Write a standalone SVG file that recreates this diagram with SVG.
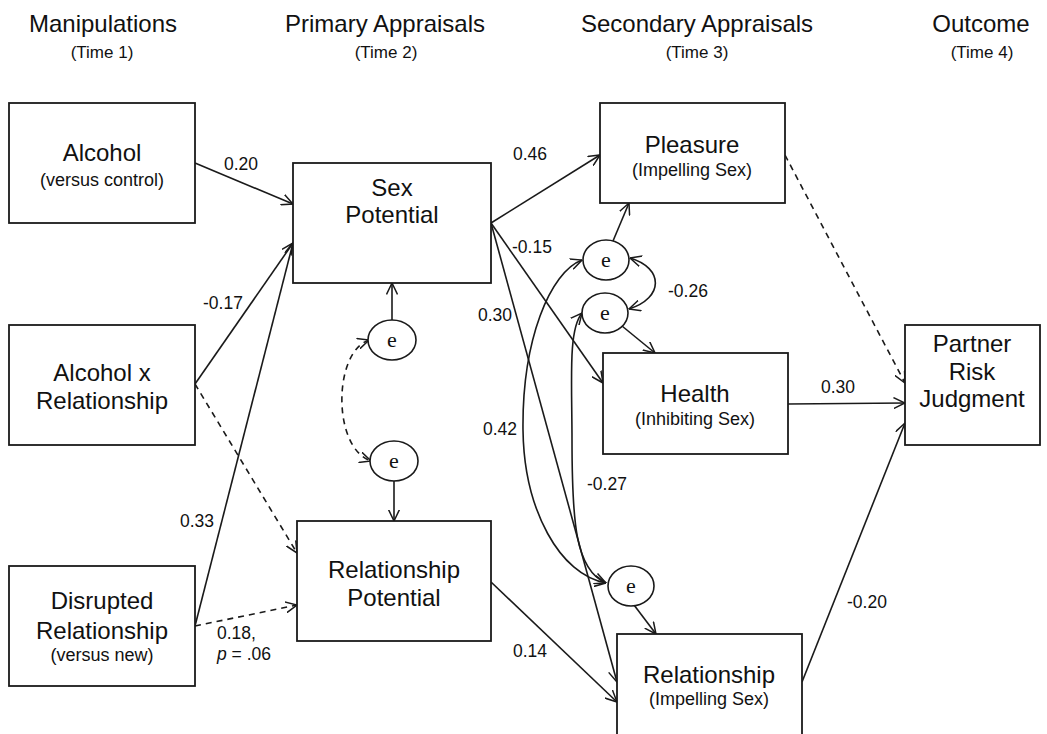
<svg xmlns="http://www.w3.org/2000/svg" width="1047" height="734" viewBox="0 0 1047 734">
  <defs>
    <marker id="arrow" viewBox="0 0 12 12" refX="11.5" refY="6" markerWidth="12" markerHeight="12" markerUnits="userSpaceOnUse" orient="auto-start-reverse">
      <path d="M0,0.5 L11.5,6 L0,11.5" fill="none" stroke="#1a1a1a" stroke-width="1.5"/>
    </marker>
    <style>
      .box { fill: #fff; stroke: #1a1a1a; stroke-width: 1.8; }
      .err { fill: #fff; stroke: #1a1a1a; stroke-width: 1.6; }
      .lnk { fill: none; stroke: #1a1a1a; stroke-width: 1.6; marker-end: url(#arrow); }
      .cov { fill: none; stroke: #1a1a1a; stroke-width: 1.6; marker-start: url(#arrow); marker-end: url(#arrow); }
      .dash { stroke-dasharray: 6 5; }
      text { font-family: "Liberation Sans", Arial, sans-serif; fill: #111; text-anchor: middle; }
      .hd { font-size: 24px; }
      .tm { font-size: 17px; }
      .nm { font-size: 24px; }
      .sb { font-size: 18px; }
      .lb { font-size: 17.5px; text-anchor: start; }
      .e { font-family: "Liberation Serif", "Times New Roman", serif; font-size: 22px; }
    </style>
  </defs>

  <!-- column headings -->
  <g id="headings">
    <text class="hd" x="103" y="32">Manipulations</text>
    <text class="tm" x="102" y="58">(Time 1)</text>
    <text class="hd" x="385" y="32">Primary Appraisals</text>
    <text class="tm" x="386" y="58">(Time 2)</text>
    <text class="hd" x="697" y="32">Secondary Appraisals</text>
    <text class="tm" x="697" y="58">(Time 3)</text>
    <text class="hd" x="981" y="32">Outcome</text>
    <text class="tm" x="982" y="58">(Time 4)</text>
  </g>

  <!-- paths, covariances and coefficients -->
  <g id="connectors">
    <!-- manipulations to primary appraisals -->
    <line class="lnk" x1="195" y1="163" x2="293" y2="204"/>
    <line class="lnk" x1="195" y1="384" x2="293" y2="243"/>
    <line class="lnk dash" x1="195" y1="384" x2="297" y2="553"/>
    <line class="lnk" x1="195" y1="626" x2="293" y2="243"/>
    <line class="lnk dash" x1="195" y1="626" x2="297" y2="605"/>

    <!-- primary to secondary appraisals -->
    <line class="lnk" x1="491" y1="223" x2="600" y2="155"/>
    <line class="lnk" x1="491" y1="223" x2="603" y2="383"/>
    <line class="lnk" x1="491" y1="223" x2="617" y2="682"/>
    <line class="lnk" x1="491" y1="582" x2="617" y2="702"/>

    <!-- secondary appraisals to outcome -->
    <line class="lnk dash" x1="785" y1="155" x2="905" y2="383"/>
    <line class="lnk" x1="788" y1="404" x2="905" y2="403"/>
    <line class="lnk" x1="802" y1="682" x2="905" y2="423"/>

    <!-- disturbance terms to their variables -->
    <line class="lnk" x1="392" y1="320" x2="392" y2="283"/>
    <line class="lnk" x1="394" y1="481" x2="394" y2="521"/>
    <line class="lnk" x1="613" y1="241" x2="629" y2="203"/>
    <line class="lnk" x1="622" y1="326" x2="655" y2="353"/>
    <line class="lnk" x1="634" y1="605" x2="656" y2="634"/>

    <!-- correlated disturbances -->
    <path class="cov dash" d="M369,340 C333,352 332,448 371,461"/>
    <path class="cov" d="M630,258 C664,268 664,298 629,309"/>
    <path class="cov" d="M582,260 C550,272 522,340 523,430 C524,510 560,575 606,583"/>
    <path class="cov" d="M582,313 C568,330 572,380 572,440 C572,520 575,570 606,583"/>

    <!-- coefficients -->
    <text class="lb" x="224" y="170">0.20</text>
    <text class="lb" x="203" y="309">-0.17</text>
    <text class="lb" x="180" y="527">0.33</text>
    <text class="lb" x="217" y="639">0.18,</text>
    <text class="lb" x="217" y="660"><tspan font-style="italic">p</tspan> = .06</text>
    <text class="lb" x="513" y="160">0.46</text>
    <text class="lb" x="512" y="253">-0.15</text>
    <text class="lb" x="478" y="321">0.30</text>
    <text class="lb" x="483" y="435">0.42</text>
    <text class="lb" x="587" y="490">-0.27</text>
    <text class="lb" x="668" y="297">-0.26</text>
    <text class="lb" x="513" y="657">0.14</text>
    <text class="lb" x="821" y="393">0.30</text>
    <text class="lb" x="847" y="608">-0.20</text>
  </g>

  <!-- manipulations -->
  <g id="alcohol">
    <rect class="box" x="9" y="103" width="186" height="120"/>
    <text class="nm" x="102" y="161">Alcohol</text>
    <text class="sb" x="102" y="186">(versus control)</text>
  </g>
  <g id="alcohol-x-relationship">
    <rect class="box" x="9" y="325" width="186" height="120"/>
    <text class="nm" x="102" y="381">Alcohol x</text>
    <text class="nm" x="102" y="409">Relationship</text>
  </g>
  <g id="disrupted-relationship">
    <rect class="box" x="9" y="566" width="186" height="120"/>
    <text class="nm" x="102" y="609">Disrupted</text>
    <text class="nm" x="102" y="639">Relationship</text>
    <text class="sb" x="102" y="661">(versus new)</text>
  </g>

  <!-- primary appraisals -->
  <g id="sex-potential">
    <rect class="box" x="293" y="163" width="198" height="120"/>
    <text class="nm" x="392" y="196">Sex</text>
    <text class="nm" x="392" y="223">Potential</text>
  </g>
  <g id="relationship-potential">
    <rect class="box" x="297" y="521" width="194" height="120"/>
    <text class="nm" x="394" y="578">Relationship</text>
    <text class="nm" x="394" y="606">Potential</text>
  </g>
  <g id="e-sex-potential">
    <ellipse class="err" cx="392" cy="340" rx="24" ry="20"/>
    <text class="e" x="392" y="347">e</text>
  </g>
  <g id="e-relationship-potential">
    <ellipse class="err" cx="394" cy="461" rx="24" ry="20"/>
    <text class="e" x="394" y="468">e</text>
  </g>

  <!-- secondary appraisals -->
  <g id="pleasure">
    <rect class="box" x="600" y="103" width="185" height="100"/>
    <text class="nm" x="692" y="153">Pleasure</text>
    <text class="sb" x="692" y="176">(Impelling Sex)</text>
  </g>
  <g id="health">
    <rect class="box" x="603" y="353" width="185" height="101"/>
    <text class="nm" x="695" y="402">Health</text>
    <text class="sb" x="695" y="425">(Inhibiting Sex)</text>
  </g>
  <g id="relationship">
    <rect class="box" x="617" y="634" width="185" height="110"/>
    <text class="nm" x="709" y="683">Relationship</text>
    <text class="sb" x="709" y="705">(Impelling Sex)</text>
  </g>
  <g id="e-pleasure">
    <ellipse class="err" cx="606" cy="260" rx="23" ry="20"/>
    <text class="e" x="606" y="267">e</text>
  </g>
  <g id="e-health">
    <ellipse class="err" cx="605" cy="313" rx="23" ry="20"/>
    <text class="e" x="605" y="320">e</text>
  </g>
  <g id="e-relationship">
    <ellipse class="err" cx="631" cy="586" rx="23" ry="20"/>
    <text class="e" x="631" y="593">e</text>
  </g>

  <!-- outcome -->
  <g id="partner-risk-judgment">
    <rect class="box" x="905" y="325" width="135" height="120"/>
    <text class="nm" x="972" y="352">Partner</text>
    <text class="nm" x="972" y="380">Risk</text>
    <text class="nm" x="972" y="407">Judgment</text>
  </g>
</svg>
